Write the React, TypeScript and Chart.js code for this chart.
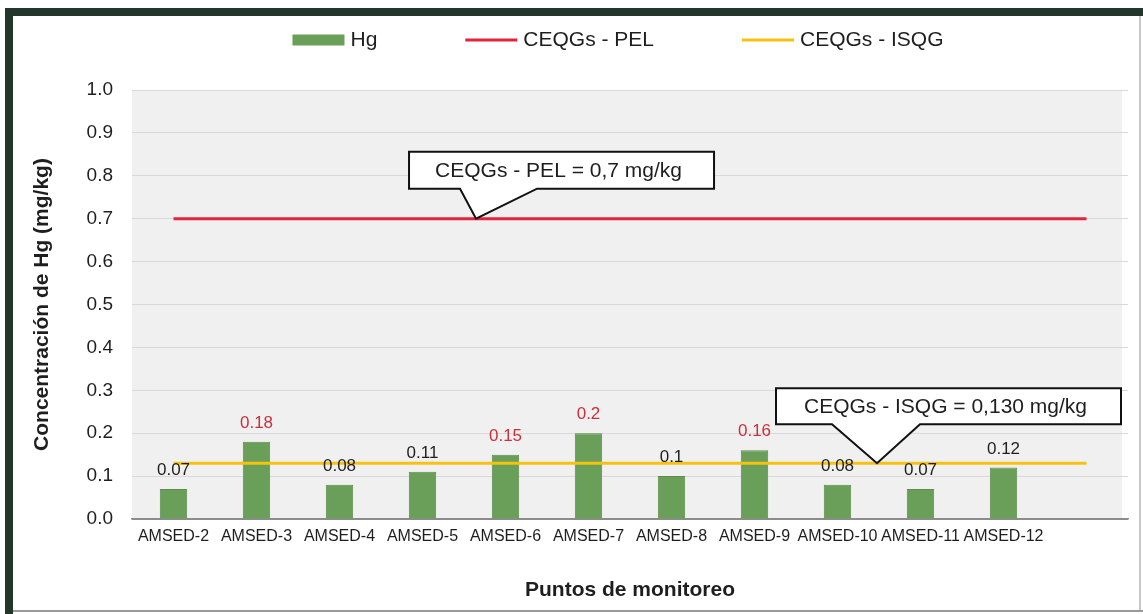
import React, { useEffect, useRef } from 'react';
import { Chart, registerables } from 'chart.js';

Chart.register(...registerables);

// ---------- data ----------
const categories = ['AMSED-2', 'AMSED-3', 'AMSED-4', 'AMSED-5', 'AMSED-6', 'AMSED-7', 'AMSED-8', 'AMSED-9', 'AMSED-10', 'AMSED-11', 'AMSED-12', ''];
const hgValues = [0.07, 0.18, 0.08, 0.11, 0.15, 0.2, 0.1, 0.16, 0.08, 0.07, 0.12];
const pelValues = [0.7, 0.7, 0.7, 0.7, 0.7, 0.7, 0.7, 0.7, 0.7, 0.7, 0.7, 0.7];
const isqgValues = [0.13, 0.13, 0.13, 0.13, 0.13, 0.13, 0.13, 0.13, 0.13, 0.13, 0.13, 0.13];
const seriesNames = ['Hg', 'CEQGs - PEL', 'CEQGs - ISQG'];
const yTickLabels = ['0.0', '0.1', '0.2', '0.3', '0.4', '0.5', '0.6', '0.7', '0.8', '0.9', '1.0'];
const ISQG_LIMIT = 0.13;
const calloutTexts = ['CEQGs - PEL = 0,7 mg/kg', 'CEQGs - ISQG = 0,130 mg/kg'];
const calloutValues = [0.7, 0.13];
const calloutAnchors = [3.645, 8.476];

// ---------- styles ----------
const FONT = "'Liberation Sans', Arial, Helvetica, sans-serif";
const TEXT = '#1e1e1e';
const BAR_FILL = '#6a9f59';
const BAR_EDGE = '#5b8d4b';
const PEL_COLOR = '#e2233d';
const ISQG_COLOR = '#f5c30f';
const LABEL_RED = '#c9303e';

// callout box geometry relative to the tip (px)
const calloutGeom = [
  { left: -67, right: 238, bottom: -30, height: 37, baseL: -16, baseR: 61 },
  { left: -101, right: 244, bottom: -39, height: 36, baseL: -45, baseR: 43 },
];

const framePlugin = {
  id: 'frame',
  beforeDraw(chart: any) {
    const { ctx, width, height, chartArea } = chart;
    ctx.save();
    ctx.fillStyle = '#ffffff';
    ctx.fillRect(0, 0, width, height);
    // dark frame (left & top)
    ctx.fillStyle = '#23362c';
    ctx.fillRect(5, 8, 8, height - 8);
    ctx.fillRect(5, 8, width - 5, 8);
    // light frame (right & bottom)
    ctx.fillStyle = '#c8c8c8';
    ctx.fillRect(width - 4, 16, 2, height - 18);
    ctx.fillStyle = '#9a9a9a';
    ctx.fillRect(13, height - 4, width - 13, 2);
    // plot background
    ctx.fillStyle = '#f0f0f0';
    ctx.fillRect(chartArea.left, chartArea.top, chartArea.right - chartArea.left - 6, chartArea.bottom - chartArea.top);
    ctx.restore();
  },
};

const valueLabelPlugin = {
  id: 'valueLabels',
  afterDatasetsDraw(chart: any) {
    const { ctx } = chart;
    const meta = chart.getDatasetMeta(0);
    ctx.save();
    ctx.font = `17px ${FONT}`;
    ctx.textAlign = 'center';
    ctx.textBaseline = 'alphabetic';
    meta.data.forEach((bar: any, i: number) => {
      const v = hgValues[i];
      ctx.fillStyle = v > ISQG_LIMIT ? LABEL_RED : TEXT;
      ctx.fillText(String(v), bar.x, bar.y - 14);
    });
    ctx.restore();
  },
};

const calloutPlugin = {
  id: 'callouts',
  afterDraw(chart: any) {
    const { ctx, scales } = chart;
    ctx.save();
    calloutTexts.forEach((text, i) => {
      const g = calloutGeom[i];
      const tx = scales.x.getPixelForValue(calloutAnchors[i]);
      const ty = scales.y.getPixelForValue(calloutValues[i]);
      const bb = ty + g.bottom;
      const bt = bb - g.height;
      ctx.beginPath();
      ctx.moveTo(tx + g.left, bt);
      ctx.lineTo(tx + g.right, bt);
      ctx.lineTo(tx + g.right, bb);
      ctx.lineTo(tx + g.baseR, bb);
      ctx.lineTo(tx, ty);
      ctx.lineTo(tx + g.baseL, bb);
      ctx.lineTo(tx + g.left, bb);
      ctx.closePath();
      ctx.fillStyle = '#ffffff';
      ctx.fill();
      ctx.lineWidth = 2;
      ctx.strokeStyle = '#111111';
      ctx.lineJoin = 'miter';
      ctx.stroke();
      ctx.fillStyle = TEXT;
      ctx.font = `21px ${FONT}`;
      ctx.textAlign = 'center';
      ctx.textBaseline = 'middle';
      ctx.fillText(text, tx + (g.left + g.right) / 2 - 3, (bt + bb) / 2 + 1);
    });
    ctx.restore();
  },
};

const legendPlugin = {
  id: 'customLegend',
  afterDraw(chart: any) {
    const { ctx, chartArea } = chart;
    ctx.save();
    ctx.font = `21px ${FONT}`;
    ctx.textBaseline = 'middle';
    ctx.textAlign = 'left';
    const items = chart.data.datasets.map((ds: any) => ({
      label: ds.label,
      isBar: ds.type === 'bar',
      color: ds.type === 'bar' ? ds.backgroundColor : ds.borderColor,
    }));
    const symW = 52;
    const gap = 6;
    const spacing = 88;
    const widths = items.map((it: any) => symW + gap + ctx.measureText(it.label).width);
    const total = widths.reduce((a: number, b: number) => a + b, 0) + spacing * (items.length - 1);
    const center = (chartArea.left + chartArea.right) / 2 - 12;
    let x = center - total / 2;
    const y = 40;
    items.forEach((it: any, i: number) => {
      ctx.fillStyle = it.color;
      if (it.isBar) ctx.fillRect(x, y - 5.5, symW, 11);
      else ctx.fillRect(x, y - 1.5, symW, 3);
      ctx.fillStyle = TEXT;
      ctx.fillText(it.label, x + symW + gap, y);
      x += widths[i] + spacing;
    });
    ctx.restore();
  },
};

export default function App() {
  const canvasRef = useRef<HTMLCanvasElement | null>(null);

  useEffect(() => {
    if (!canvasRef.current) return;
    const chart = new Chart(canvasRef.current, {
      data: {
        labels: categories,
        datasets: [
          {
            type: 'bar',
            label: seriesNames[0],
            data: hgValues,
            backgroundColor: BAR_FILL,
            borderColor: BAR_EDGE,
            borderWidth: 1,
            categoryPercentage: 1,
            barPercentage: 0.33,
            order: 2,
          },
          {
            type: 'line',
            label: seriesNames[1],
            data: pelValues,
            borderColor: PEL_COLOR,
            backgroundColor: PEL_COLOR,
            borderWidth: 3,
            pointRadius: 0,
            fill: false,
            tension: 0,
            order: 1,
          },
          {
            type: 'line',
            label: seriesNames[2],
            data: isqgValues,
            borderColor: ISQG_COLOR,
            backgroundColor: ISQG_COLOR,
            borderWidth: 3,
            pointRadius: 0,
            fill: false,
            tension: 0,
            order: 0,
          },
        ],
      } as any,
      options: {
        responsive: false,
        animation: false,
        devicePixelRatio: 1,
        layout: { padding: { top: 90, right: 15, left: 0, bottom: 0 } },
        plugins: { legend: { display: false }, tooltip: { enabled: false } },
        scales: {
          x: {
            offset: true,
            grid: { display: false, drawTicks: false },
            border: { display: true, color: '#8c8c8c', width: 1.5 },
            ticks: {
              color: TEXT,
              font: { family: FONT, size: 16 },
              padding: 8,
              maxRotation: 0,
              minRotation: 0,
              autoSkip: false,
            },
            title: {
              display: true,
              text: 'Puntos de monitoreo',
              color: TEXT,
              font: { family: FONT, size: 21, weight: 'bold' },
              padding: { top: 0, bottom: 11 },
            },
            afterFit: (s: any) => {
              s.height = 95;
              s.paddingLeft = 0;
              s.paddingRight = 0;
            },
          },
          y: {
            min: 0,
            max: 1,
            ticks: {
              stepSize: 0.1,
              callback: (_v: any, i: number) => yTickLabels[i],
              padding: 19,
              color: TEXT,
              font: { family: FONT, size: 19 },
            },
            grid: {
              color: (c: any) => (c.tick && c.tick.value === 0 ? '#8c8c8c' : '#d9d9d9'),
              drawTicks: false,
              lineWidth: 1,
            },
            border: { display: false },
            title: {
              display: true,
              text: 'Concentración de Hg (mg/kg)',
              color: TEXT,
              font: { family: FONT, size: 21, weight: 'bold' },
              padding: { top: 30, bottom: 0 },
            },
            afterFit: (s: any) => {
              s.width = 132;
              s.paddingTop = 0;
              s.paddingBottom = 0;
            },
          },
        },
      } as any,
      plugins: [framePlugin, valueLabelPlugin, calloutPlugin, legendPlugin],
    });
    return () => chart.destroy();
  }, []);

  return (
    <div style={{ position: 'absolute', left: 0, top: 0, width: 1143, height: 614 }}>
      <canvas ref={canvasRef} width={1143} height={614} style={{ width: 1143, height: 614, display: 'block' }} />
    </div>
  );
}
